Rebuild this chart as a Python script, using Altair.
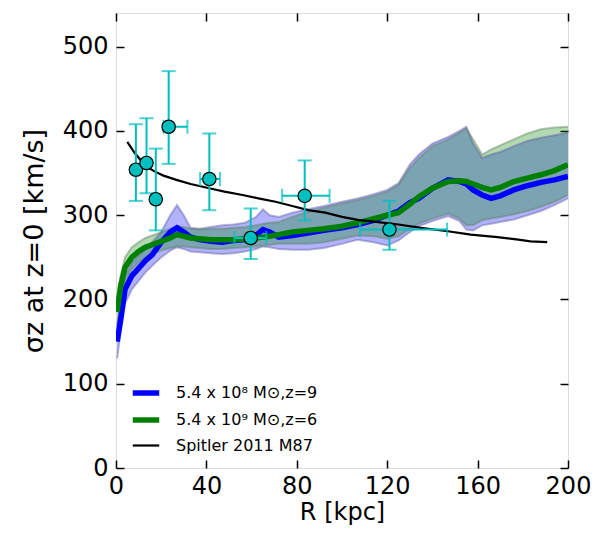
import altair as alt
import pandas as pd

# ---------------- data ----------------
R_sim = [0.5, 2, 4, 7, 10, 13, 16, 20, 24, 27, 30, 33, 37, 42, 47, 52, 57, 62, 65, 68,
         72, 78, 85, 92, 100, 107, 114, 120, 125, 130, 134, 140, 147, 152, 155, 158,
         162, 166, 170, 176, 182, 188, 194, 200]
blue_mean = [150, 175, 212, 228, 237, 246, 253, 268, 280, 285, 280, 274, 271, 269, 268, 270, 271, 276, 283, 280,
             274, 276, 279, 282, 285, 289, 294, 300, 305, 315, 320, 332, 342, 340, 337, 330,
             324, 320, 323, 330, 335, 339, 342, 346]
green_mean = [185, 215, 238, 250, 257, 262, 265, 269, 273, 277, 275, 273, 272, 271, 271, 271, 272, 273, 274, 275,
              277, 280, 282, 284, 287, 291, 296, 300, 303, 313, 322, 332, 340, 341, 340, 337,
              333, 330, 333, 340, 344, 348, 353, 360]
blue_lo = [130, 160, 195, 212, 222, 232, 240, 250, 258, 262, 260, 257, 256, 255, 254, 255, 257, 260, 263, 262,
           260, 259, 259, 261, 266, 271, 268, 264, 270, 280, 287, 293, 299, 293, 283, 282,
           288, 290, 292, 295, 300, 305, 312, 320]
blue_hi = [170, 195, 228, 243, 252, 260, 268, 280, 300, 312, 300, 285, 284, 286, 288, 289, 291, 298, 307, 300,
           298, 303, 307, 311, 316, 320, 325, 330, 338, 360, 372, 385, 393, 400, 405, 385,
           368, 372, 375, 382, 388, 392, 395, 398]
green_lo = [165, 195, 222, 236, 244, 250, 254, 258, 261, 263, 263, 262, 261, 260, 260, 261, 262, 263, 264, 265,
            266, 266, 266, 268, 272, 276, 275, 272, 275, 284, 290, 296, 302, 296, 288, 288,
            294, 296, 298, 301, 305, 310, 316, 324]
green_hi = [200, 228, 250, 262, 268, 273, 276, 280, 284, 287, 286, 284, 283, 284, 284, 285, 286, 288, 290, 291,
            292, 298, 304, 309, 314, 318, 323, 328, 336, 356, 368, 382, 390, 398, 403, 390,
            372, 378, 383, 390, 397, 402, 404, 405]

spitler_R = [5, 8, 11, 13.5, 17, 21, 26.7, 33, 41.3, 48, 56, 63, 70.6, 78, 85, 92.6, 100,
             107, 115, 125, 135, 146.8, 157, 168.8, 178, 183.4, 190.8]
spitler_sigma = [387, 375, 365, 358, 352, 347, 342, 337, 332, 328, 324, 320, 316, 311, 306, 303, 298,
                 294.5, 292, 289, 285, 281, 277, 274, 271, 269, 268]

obs_R = [8.8, 13.5, 17.6, 23.3, 41.3, 59.6, 83.5, 121]
obs_sigma = [354, 362, 319, 405, 343, 273, 323, 283]
obs_sigma_lo = [317, 326, 282, 361, 306, 248, 294, 259]
obs_sigma_hi = [408, 415, 379, 471, 397, 308, 365, 317]
obs_R_lo = [8.8, 13.5, 17.6, 21.0, 37.2, 52.4, 73.5, 108]
obs_R_hi = [8.8, 13.5, 17.6, 31.6, 46.0, 66.5, 94.5, 146.5]

lab_blue = "5.4 x 10⁸ M⊙,z=9"
lab_green = "5.4 x 10⁹ M⊙,z=6"
lab_spitler = "Spitler 2011 M87"

# ---------------- tables ----------------
df_sim = pd.DataFrame({"R": R_sim, "blue_lo": blue_lo, "blue_hi": blue_hi,
                       "green_lo": green_lo, "green_hi": green_hi})
df_blue = pd.DataFrame({"R": R_sim, "sigma": blue_mean, "series": lab_blue})
df_green = pd.DataFrame({"R": R_sim, "sigma": green_mean, "series": lab_green})
df_sp = pd.DataFrame({"R": spitler_R, "sigma": spitler_sigma, "series": lab_spitler})
df_obs = pd.DataFrame({"R": obs_R, "s": obs_sigma, "s_lo": obs_sigma_lo, "s_hi": obs_sigma_hi,
                       "R_lo": obs_R_lo, "R_hi": obs_R_hi})

CYAN = "#00bfbf"
FONT = "DejaVu Sans"
xs = alt.Scale(domain=[0, 200], nice=False)
ys = alt.Scale(domain=[0, 540], nice=False)
xticks = [0, 40, 80, 120, 160, 200]
yticks = [0, 100, 200, 300, 400, 500]

ax_bottom = alt.Axis(values=xticks, tickSize=8, offset=-8, domain=False, grid=False,
                     labelPadding=6, labelFontSize=24, labelFont=FONT, labelColor="black",
                     tickColor="black", tickWidth=1.5, title="R [kpc]", titleFont=FONT,
                     titleFontSize=24, titleFontWeight="normal", titleColor="black",
                     titlePadding=2, labelFlush=False)
ax_left = alt.Axis(values=yticks, tickSize=8, offset=-8, domain=False, grid=False,
                   labelPadding=8, labelFontSize=24, labelFont=FONT, labelColor="black",
                   tickColor="black", tickWidth=1.5, title="σz at z=0 [km/s]", titleFont=FONT,
                   titleFontSize=27, titleFontWeight="normal", titleColor="black",
                   titlePadding=14, labelFlush=False)
ax_top = alt.Axis(orient="top", values=xticks, tickSize=8, offset=-8, domain=False, grid=False,
                  labels=False, tickColor="black", tickWidth=1.5, title="")
ax_right = alt.Axis(orient="right", values=yticks, tickSize=8, offset=-8, domain=False, grid=False,
                    labels=False, tickColor="black", tickWidth=1.5, title="")

cscale = alt.Scale(domain=[lab_blue, lab_green, lab_spitler], range=["#0000ff", "#008000", "#000000"])
wscale = alt.Scale(type="ordinal", domain=[lab_blue, lab_green, lab_spitler], range=[5.5, 5.5, 2.2])
leg = alt.Legend(orient="none", legendX=14, legendY=364, title=None, labelFont=FONT,
                 labelFontSize=16, labelColor="black", symbolType="stroke", symbolSize=700,
                 rowPadding=0, labelOffset=14)

base = alt.Chart(df_sim)

band_blue = base.mark_area(color="blue", opacity=0.3, clip=True).encode(
    x=alt.X("R:Q", scale=xs, axis=ax_bottom),
    y=alt.Y("blue_lo:Q", scale=ys, axis=ax_left),
    y2="blue_hi:Q")
band_green = base.mark_area(color="green", opacity=0.3, clip=True).encode(
    x=alt.X("R:Q", scale=xs, axis=None),
    y=alt.Y("green_lo:Q", scale=ys, axis=None),
    y2="green_hi:Q")

edges = []
for fld, col in [("blue_lo", "#6060a0"), ("blue_hi", "#6060a0"),
                 ("green_lo", "#608060"), ("green_hi", "#608060")]:
    edges.append(base.mark_line(color=col, opacity=0.45, strokeWidth=2, clip=True).encode(
        x=alt.X("R:Q", scale=xs, axis=None),
        y=alt.Y(f"{fld}:Q", scale=ys, axis=None)))

def series_line(df):
    return alt.Chart(df).mark_line(clip=True).encode(
        x=alt.X("R:Q", scale=xs, axis=None),
        y=alt.Y("sigma:Q", scale=ys, axis=None),
        color=alt.Color("series:N", scale=cscale, legend=leg),
        strokeWidth=alt.StrokeWidth("series:N", scale=wscale, legend=leg))

line_blue = series_line(df_blue)
line_green = series_line(df_green)
line_sp = alt.Chart(df_sp).mark_line(clip=True).encode(
    x=alt.X("R:Q", scale=xs, axis=ax_top),
    y=alt.Y("sigma:Q", scale=ys, axis=ax_right),
    color=alt.Color("series:N", scale=cscale, legend=leg),
    strokeWidth=alt.StrokeWidth("series:N", scale=wscale, legend=leg))

obs = alt.Chart(df_obs)
vbar = obs.mark_rule(color=CYAN, strokeWidth=2).encode(
    x=alt.X("R:Q", scale=xs, axis=None),
    y=alt.Y("s_lo:Q", scale=ys, axis=None), y2="s_hi:Q")
vcaps = obs.transform_fold(["s_lo", "s_hi"], as_=["k", "v"]).mark_tick(
    color=CYAN, orient="horizontal", size=14, thickness=2).encode(
    x=alt.X("R:Q", scale=xs, axis=None),
    y=alt.Y("v:Q", scale=ys, axis=None))
obs_x = obs.transform_filter("datum.R_hi > datum.R_lo")
hbar = obs_x.mark_rule(color=CYAN, strokeWidth=2).encode(
    x=alt.X("R_lo:Q", scale=xs, axis=None), x2="R_hi:Q",
    y=alt.Y("s:Q", scale=ys, axis=None))
hcaps = obs_x.transform_fold(["R_lo", "R_hi"], as_=["k", "v"]).mark_tick(
    color=CYAN, orient="vertical", size=14, thickness=2).encode(
    x=alt.X("v:Q", scale=xs, axis=None),
    y=alt.Y("s:Q", scale=ys, axis=None))
pts = obs.mark_point(filled=True, fill=CYAN, stroke="black", strokeWidth=1.2,
                     size=180, opacity=1, shape="circle").encode(
    x=alt.X("R:Q", scale=xs, axis=None),
    y=alt.Y("s:Q", scale=ys, axis=None))

chart = alt.layer(band_blue, band_green, *edges, line_blue, line_green, line_sp,
                  vbar, vcaps, hbar, hcaps, pts).resolve_axis(
    x="independent", y="independent").properties(
    width=452, height=455,
    padding={"left": 108, "top": 5, "right": 23, "bottom": 58},
    autosize=alt.AutoSizeParams(type="none")).configure_view(
    stroke="black", strokeWidth=3).configure(background="white")

chart.save("out.html", embed_options={"renderer": "svg", "actions": False})
